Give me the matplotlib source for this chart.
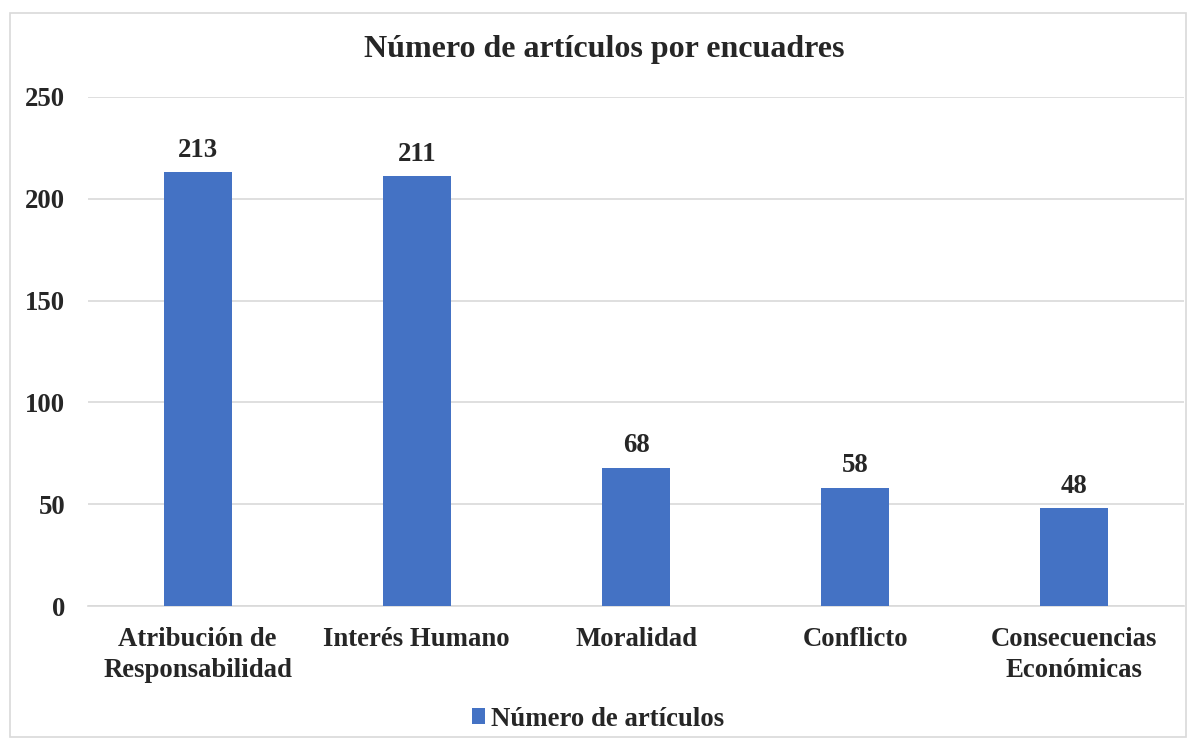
import matplotlib
matplotlib.use("Agg")
import matplotlib.pyplot as plt
from matplotlib.patches import Rectangle

categories = ["Atribución de\nResponsabilidad", "Interés Humano", "Moralidad",
              "Conflicto", "Consecuencias\nEconómicas"]
values = [213, 211, 68, 58, 48]
yticks = [0, 50, 100, 150, 200, 250]
title = "Número de artículos por encuadres"
series_name = "Número de artículos"

plt.rcParams['font.family'] = ['Liberation Serif', 'DejaVu Serif']
plt.rcParams['font.weight'] = 'bold'

bar_color = "#4472C4"
text_color = "#262626"
fs = 19.3

fig = plt.figure(figsize=(11.96, 7.47), dpi=100)
fig.patch.set_facecolor("white")
# outer chart border
fig.add_artist(Rectangle((10/1196, 10/747), 1176/1196, 724/747, transform=fig.transFigure,
                         fill=False, edgecolor="#D9D9D9", linewidth=1.2))

ax = fig.add_axes([88/1196, 1 - 606/747, (1184 - 88)/1196, (606 - 97)/747])
x = list(range(len(categories)))
bars = ax.bar(x, values, width=0.31, color=bar_color, label=series_name, zorder=3)
ax.set_xlim(-0.5, len(categories) - 0.5)
ax.set_ylim(0, 250)
ax.set_yticks(yticks)
ax.set_yticklabels([str(t) for t in yticks], fontsize=fs, color=text_color, fontweight='bold')
ax.set_xticks(x)
ax.set_xticklabels(categories, fontsize=fs, color=text_color, fontweight='bold', linespacing=1.3)
ax.tick_params(axis='both', length=0)
ax.tick_params(axis='x', pad=15)
ax.tick_params(axis='y', pad=16.5)
ax.grid(axis='y', color="#D9D9D9", linewidth=1.2, zorder=0)
for s in ["top", "right", "left"]:
    ax.spines[s].set_visible(False)
ax.spines["bottom"].set_color("#D9D9D9")
ax.spines["bottom"].set_linewidth(1.2)

for xi, v in zip(x, values):
    ax.annotate(str(v), (xi, v), xytext=(0, 7), textcoords="offset points",
                ha="center", va="bottom", fontsize=fs, fontweight='bold', color=text_color)

fig.text(0.505, 1 - 50/747, title, ha="center", va="center", fontsize=23,
         fontweight='bold', color=text_color)

fig.legend(handles=[bars], labels=[series_name], loc="center",
           bbox_to_anchor=(0.5, 1 - 719/747), frameon=False, fontsize=fs,
           handlelength=0.5, handleheight=0.5, handletextpad=0.2,
           labelcolor=text_color)

fig.savefig("out.png", dpi=100, facecolor="white")
